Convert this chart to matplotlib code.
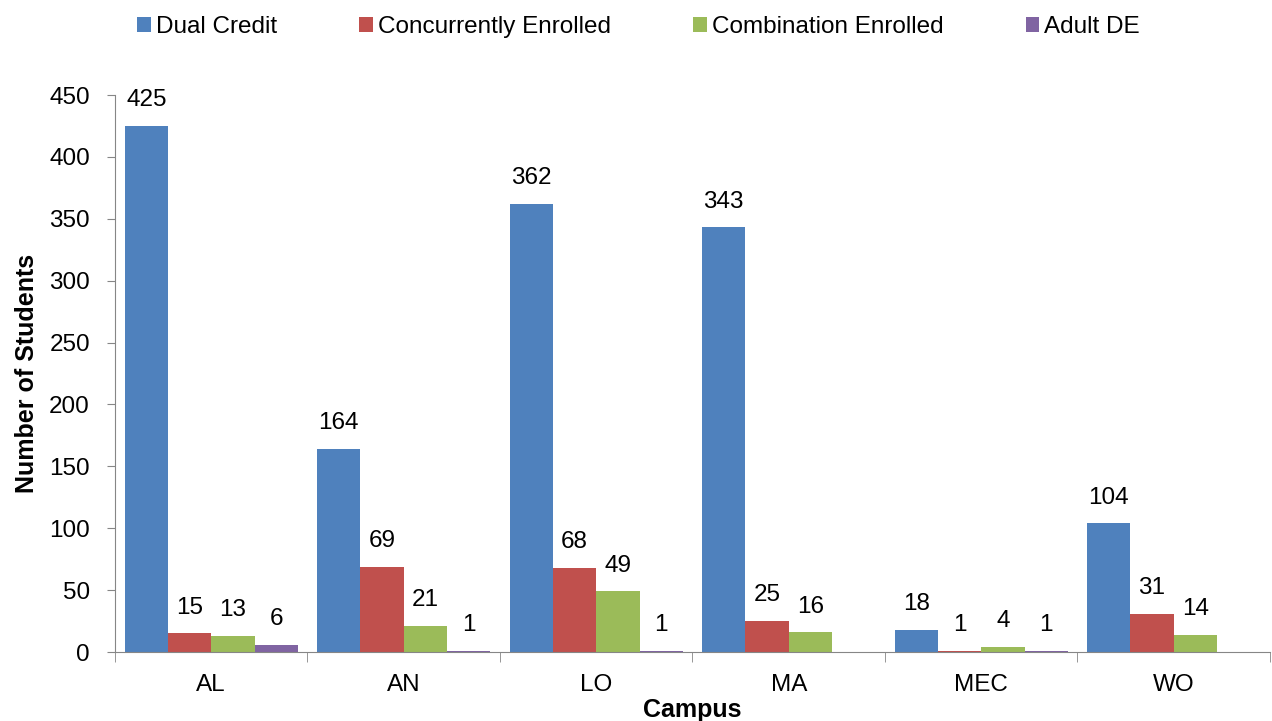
import numpy as np
from matplotlib import pyplot as plt
from matplotlib.ticker import MultipleLocator, FixedLocator

campuses = ["AL", "AN", "LO", "MA", "MEC", "WO"]
dual_credit = [425, 164, 362, 343, 18, 104]
concurrent = [15, 69, 68, 25, 1, 31]
combination = [13, 21, 49, 16, 4, 14]
adult_de = [6, 1, 1, None, 1, None]

series = [
    ("Dual Credit", dual_credit, "#4F81BD"),
    ("Concurrently Enrolled", concurrent, "#C0504D"),
    ("Combination Enrolled", combination, "#9BBB59"),
    ("Adult DE", adult_de, "#8064A2"),
]

plt.rcParams["font.family"] = ["Liberation Sans", "DejaVu Sans"]

fig = plt.figure(figsize=(12.72, 7.21), dpi=100)
ax = fig.add_axes([0.0904, 0.0957, 0.908, 0.7725])

x = np.arange(len(campuses))
width = 0.225
for i, (name, vals, color) in enumerate(series):
    offs = (i - 1.5) * width
    heights = [v if v is not None else 0 for v in vals]
    bars = ax.bar(x + offs, heights, width, color=color, label=name)
    labels = [str(v) if v is not None else "" for v in vals]
    ax.bar_label(bars, labels=labels, padding=10.5, fontsize=17.5)

ax.set_xlim(-0.5, len(campuses) - 0.5)
ax.set_ylim(0, 450)
ax.yaxis.set_major_locator(MultipleLocator(50))
ax.set_xticks(x)
ax.set_xticklabels(campuses)
ax.xaxis.set_minor_locator(FixedLocator(np.arange(-0.5, len(campuses), 1)))
ax.tick_params(axis="x", which="major", length=0, labelsize=17.5, pad=16)
ax.tick_params(axis="x", which="minor", length=7, color="#868686", direction="out")
ax.tick_params(axis="y", length=6, color="#868686", labelsize=17.5, pad=12)

for side in ["top", "right"]:
    ax.spines[side].set_visible(False)
for side in ["left", "bottom"]:
    ax.spines[side].set_color("#868686")

ax.set_ylabel("Number of Students", fontsize=18, fontweight="bold")
ax.yaxis.set_label_coords(-0.066, 0.5)
ax.set_xlabel("Campus", fontsize=18, fontweight="bold")
ax.xaxis.set_label_coords(0.5, -0.083)

fig.legend(
    loc="upper center",
    bbox_to_anchor=(0.502, 1.008),
    ncol=4,
    frameon=False,
    fontsize=17.5,
    handlelength=0.55,
    handleheight=0.55,
    handletextpad=0.2,
    columnspacing=3.4,
)

plt.savefig("out.png", dpi=100)
